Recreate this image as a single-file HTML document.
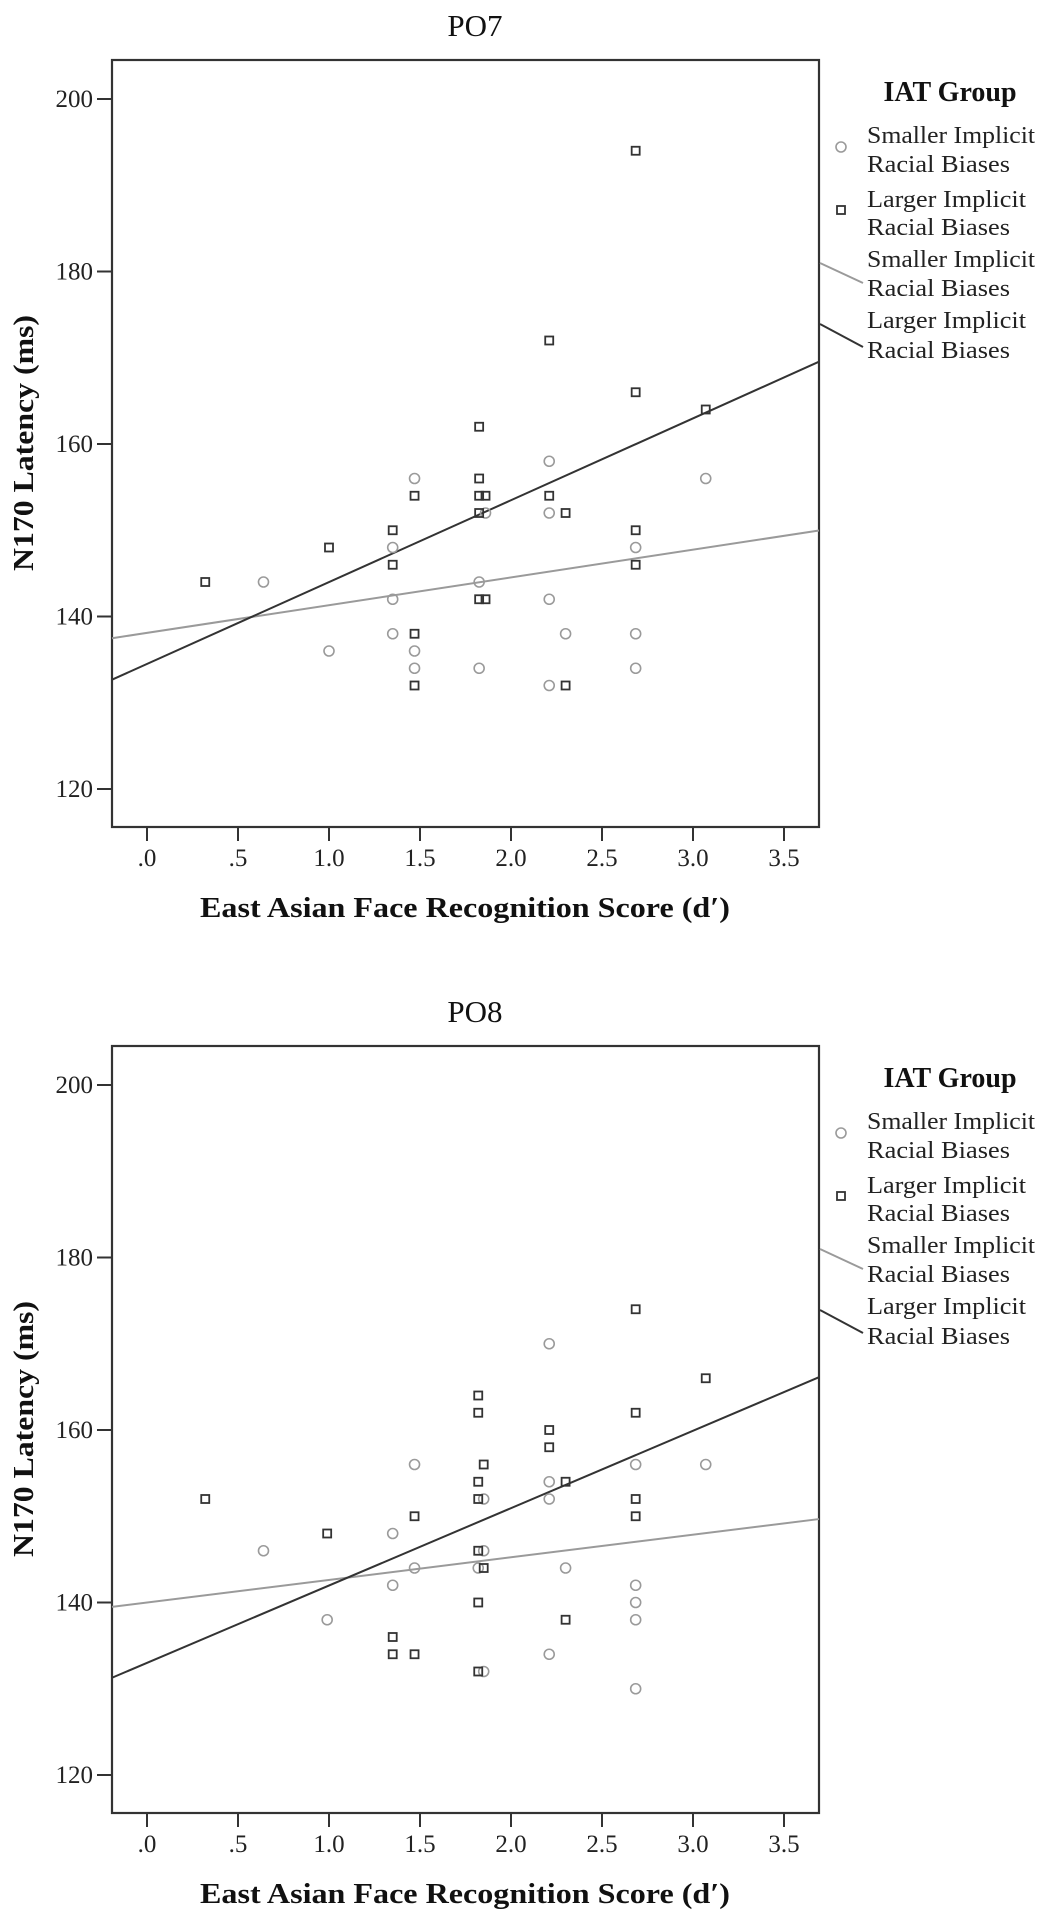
<!DOCTYPE html>
<html><head><meta charset="utf-8"><style>
html,body{margin:0;padding:0;background:#fff;}
svg{display:block;font-family:"Liberation Serif",serif;}
</style></head><body>
<svg id="chart" width="1046" height="1920" viewBox="0 0 1046 1920" xmlns="http://www.w3.org/2000/svg"></svg>
<script>
// ---- data ----
const panelTitles = ["PO7", "PO8"];
const xTicks = [0, 0.5, 1, 1.5, 2, 2.5, 3, 3.5];
const xTickLabels = [".0", ".5", "1.0", "1.5", "2.0", "2.5", "3.0", "3.5"];
const yTicks = [120, 140, 160, 180, 200];
const yTickLabels = ["120", "140", "160", "180", "200"];

// PO7
const po7SmallX = [0.64, 1.0, 1.35, 1.35, 1.35, 1.47, 1.47, 1.47, 1.825, 1.86, 1.825, 2.21, 2.21, 2.21, 2.21, 2.30, 2.685, 2.685, 2.685, 3.07];
const po7SmallY = [144, 136, 148, 142, 138, 156, 136, 134, 144, 152, 134, 158, 152, 142, 132, 138, 148, 138, 134, 156];
const po7LargeX = [0.32, 1.0, 1.35, 1.35, 1.47, 1.47, 1.47, 1.825, 1.825, 1.825, 1.825, 1.825, 1.86, 1.86, 2.21, 2.21, 2.30, 2.30, 2.685, 2.685, 2.685, 2.685, 3.07];
const po7LargeY = [144, 148, 150, 146, 154, 138, 132, 162, 156, 154, 152, 142, 142, 154, 172, 154, 152, 132, 194, 166, 150, 146, 164];
const po7SmallFit = [138.1, 3.215];   // intercept, slope
const po7LargeFit = [134.5, 9.49];

// PO8
const po8SmallX = [2.21, 1.47, 2.685, 3.07, 2.21, 2.21, 1.85, 1.35, 0.64, 1.85, 1.47, 1.82, 2.30, 1.35, 2.685, 2.685, 0.99, 2.685, 2.21, 1.85, 2.685];
const po8SmallY = [170, 156, 156, 156, 154, 152, 152, 148, 146, 146, 144, 144, 144, 142, 142, 140, 138, 138, 134, 132, 130];
const po8LargeX = [2.685, 3.07, 1.82, 1.82, 1.82, 1.82, 1.82, 1.82, 1.82, 1.85, 1.85, 2.21, 2.21, 2.30, 2.30, 2.685, 2.685, 2.685, 0.32, 0.99, 1.47, 1.47, 1.35, 1.35];
const po8LargeY = [174, 166, 164, 162, 154, 152, 146, 140, 132, 156, 144, 160, 158, 154, 138, 162, 152, 150, 152, 148, 150, 134, 136, 134];
const po8SmallFit = [140.0, 2.62];
const po8LargeFit = [133.0, 8.97];

const legendTitle = "IAT Group";
const legendLabels = [["Smaller Implicit","Racial Biases"],["Larger Implicit","Racial Biases"],["Smaller Implicit","Racial Biases"],["Larger Implicit","Racial Biases"]];

// ---- layout ----
const NS = "http://www.w3.org/2000/svg";
const svg = document.getElementById("chart");
const BOX_L = 112, BOX_R = 819, X0 = 147, XU = 182;
const X_MIN = (BOX_L - X0) / XU, X_MAX = (BOX_R - X0) / XU;
const GREY = "#9a9a9a", DARK = "#333";

function mk(tag, attrs, parent) {
  const e = document.createElementNS(NS, tag);
  for (const k in attrs) e.setAttribute(k, attrs[k]);
  (parent || svg).appendChild(e);
  return e;
}

function drawPanel(idx, off, sX, sY, lX, lY, sFit, lFit) {
  const g = mk("g", {});
  
  
  const xs = v => X0 + v * XU;
  const ys = v => off + 789 - (v - 120) * 8.625;
  const top = off + 60, bot = off + 827;

  const t = mk("text", {x: 475, y: off + 36, "text-anchor": "middle", "font-size": 31, fill: "#111"}, g);
  t.textContent = panelTitles[idx];
  
  

  const box = mk("rect", {x: BOX_L, y: top, width: BOX_R - BOX_L, height: bot - top, fill: "none", stroke: DARK, "stroke-width": 2.2}, g);
  
  

  yTicks.forEach((v, i) => {
    const tk = mk("line", {x1: 97, x2: BOX_L, y1: ys(v), y2: ys(v), stroke: DARK, "stroke-width": 2}, g);
    
    
    const lb = mk("text", {x: 93, y: ys(v) + 8, "text-anchor": "end", "font-size": 25, fill: "#222"}, g);
    lb.textContent = yTickLabels[i];
    
    
  });
  xTicks.forEach((v, i) => {
    const tk = mk("line", {x1: xs(v), x2: xs(v), y1: bot, y2: bot + 14, stroke: DARK, "stroke-width": 2}, g);
    
    
    const lb = mk("text", {x: xs(v), y: off + 866, "text-anchor": "middle", "font-size": 25, fill: "#222"}, g);
    lb.textContent = xTickLabels[i];
    
    
  });

  const xt = mk("text", {x: 465, y: off + 917, "text-anchor": "middle", "font-size": 29, "font-weight": "bold", fill: "#111", textLength: 530, lengthAdjust: "spacingAndGlyphs"}, g);
  xt.textContent = "East Asian Face Recognition Score (d\u2032)";
  
  
  const yt = mk("text", {x: 0, y: 0, "text-anchor": "middle", "font-size": 29, "font-weight": "bold", fill: "#111", textLength: 256, lengthAdjust: "spacingAndGlyphs", transform: `translate(33,${off + 443}) rotate(-90)`}, g);
  yt.textContent = "N170 Latency (ms)";
  
  

  // fit lines
  [[sFit, GREY, 'fit-line-smaller'], [lFit, DARK, 'fit-line-larger']].forEach(([f, c, n]) => {
    const ln = mk("line", {x1: xs(X_MIN), y1: ys(f[0] + f[1] * X_MIN), x2: xs(X_MAX), y2: ys(f[0] + f[1] * X_MAX), stroke: c, "stroke-width": 2}, g);
    
    
  });

  sX.forEach((v, i) => {
    const c = mk("circle", {cx: xs(v), cy: ys(sY[i]), r: 5, fill: "none", stroke: GREY, "stroke-width": 1.6}, g);
    
    
  });
  lX.forEach((v, i) => {
    const r = mk("rect", {x: xs(v) - 4, y: ys(lY[i]) - 4, width: 8, height: 8, fill: "none", stroke: DARK, "stroke-width": 1.8}, g);
    
    
  });

  // legend
  const lg = mk("g", {}, g);
  
  
  const lt = mk("text", {x: 950, y: off + 101, "text-anchor": "middle", "font-size": 28, "font-weight": "bold", fill: "#111"}, lg);
  lt.textContent = legendTitle;
  
  
  const rowsY = [[135, 164], [199, 227], [259, 288], [320, 350]];
  const widths = {"Smaller Implicit": 168, "Larger Implicit": 159, "Racial Biases": 143};
  legendLabels.forEach((lines, i) => {
    lines.forEach((s, j) => {
      const tx = mk("text", {x: 867, y: off + rowsY[i][j] + 8, "font-size": 24, fill: "#222", textLength: widths[s], lengthAdjust: "spacingAndGlyphs"}, lg);
      tx.textContent = s;
      
      
    });
  });
  const m1 = mk("circle", {cx: 841, cy: off + 147, r: 5, fill: "none", stroke: GREY, "stroke-width": 1.6}, lg);
  
  
  const m2 = mk("rect", {x: 837, y: off + 206, width: 8, height: 8, fill: "none", stroke: DARK, "stroke-width": 1.8}, lg);
  
  
  const l1 = mk("line", {x1: 820, y1: off + 263, x2: 863, y2: off + 283, stroke: GREY, "stroke-width": 2}, lg);
  
  
  const l2 = mk("line", {x1: 820, y1: off + 324, x2: 863, y2: off + 347, stroke: DARK, "stroke-width": 2}, lg);
  
  
}

drawPanel(0, 0, po7SmallX, po7SmallY, po7LargeX, po7LargeY, po7SmallFit, po7LargeFit);
drawPanel(1, 986, po8SmallX, po8SmallY, po8LargeX, po8LargeY, po8SmallFit, po8LargeFit);
</script>
</body></html>
